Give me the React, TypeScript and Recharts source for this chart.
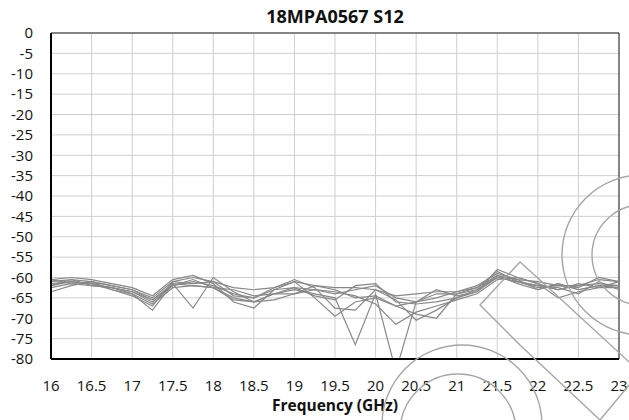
import React from "react"
import {
  CartesianGrid,
  Line,
  LineChart,
  ReferenceArea,
  XAxis,
  YAxis,
} from "recharts"

const FREQS = [
  16, 16.25, 16.5, 16.75, 17, 17.25, 17.5, 17.75, 18, 18.25, 18.5, 18.75, 19,
  19.25, 19.5, 19.75, 20, 20.25, 20.5, 20.75, 21, 21.25, 21.5, 21.75, 22, 22.25,
  22.5, 22.75, 23,
]

const S1 = [-61, -60.5, -61, -62, -63, -65, -61, -60, -61, -62.5, -63, -62.5, -61, -62, -62.5, -62.5, -63, -64.5, -64, -63.5, -63.5, -62, -59, -60.5, -61, -62, -62.5, -60, -61]
const S2 = [-62, -61, -61.5, -62.5, -63.5, -66, -62, -61, -62, -64, -65, -63, -62.5, -63, -64, -63, -62, -65, -66, -64, -64, -63, -60, -61, -62, -63, -62, -61.5, -62]
const S3 = [-63.5, -62, -61, -63, -64, -68, -61.5, -67.5, -60, -63.5, -66, -64, -63, -64, -65, -76.5, -64, -83, -66, -65, -63.5, -62.5, -59.5, -61.5, -63, -61.5, -63, -62, -62.5]
const S4 = [-60.5, -60, -60.5, -61.5, -62.5, -64.5, -60.5, -59.5, -61.5, -66, -67.5, -63, -61, -65, -69.5, -66, -65, -67, -69, -70, -64, -62.5, -58.5, -61, -62.5, -62, -62, -60.5, -61]
const S5 = [-62.5, -61.5, -62, -62.5, -64, -66.5, -62.5, -62, -62.5, -65, -66, -65.5, -64, -63, -63.5, -64.5, -66.5, -71.5, -68.5, -67, -65.5, -64, -60.5, -60, -61.5, -65, -63.5, -62.5, -62.5]
const S6 = [-61.5, -61, -61.5, -63, -64.5, -67, -61, -61.5, -61, -64.5, -65, -62.5, -60.5, -62.5, -67.5, -68, -63, -65.5, -70.5, -68, -65, -63.5, -60, -61, -62, -62.5, -64, -61, -63]
const S7 = [-60.5, -61.5, -61, -62, -63, -65.5, -62, -60.5, -62.5, -65.5, -66, -64, -62.5, -64.5, -65.5, -62, -61.5, -66, -66.5, -66, -65, -63, -59.5, -60.5, -63, -61.5, -63, -62, -62]
const S8 = [-62, -60.5, -62, -62.5, -63.5, -65.5, -61.5, -62, -62.5, -63, -64.5, -64, -64, -62, -63, -65, -64.5, -67, -66, -63, -64.5, -63.5, -58, -60, -61.5, -63, -61.5, -62.5, -61]

const SERIES = [S1, S2, S3, S4, S5, S6, S7, S8]
const SERIES_KEYS = ["s1", "s2", "s3", "s4", "s5", "s6", "s7", "s8"]

const X_TICKS = [16, 16.5, 17, 17.5, 18, 18.5, 19, 19.5, 20, 20.5, 21, 21.5, 22, 22.5, 23]
const Y_TICKS = [0, -5, -10, -15, -20, -25, -30, -35, -40, -45, -50, -55, -60, -65, -70, -75, -80]

const data = FREQS.map((f, i) => {
  const row: Record<string, number> = { f }
  SERIES_KEYS.forEach((k, j) => {
    row[k] = SERIES[j][i]
  })
  return row
})

const FONT = "'Open Sans', 'Noto Sans', sans-serif"
const tick = { fill: "#111", fontSize: 15, fontFamily: FONT }

// faint logo watermark laid over the lower right of the picture
function Watermark() {
  const s = { fill: "none", stroke: "#a6a6a6", strokeWidth: 1.4 }
  return (
    <svg
      width={629}
      height={420}
      style={{ position: "absolute", left: 0, top: 0, pointerEvents: "none" }}
    >
      <circle cx={642} cy={255} r={80} {...s} />
      <circle cx={642} cy={255} r={50} {...s} />
      <circle cx={462} cy={425} r={80} {...s} />
      <circle cx={458} cy={432} r={58} {...s} />
      <polygon points="480,305 520,262 540,280 640,372 600,420 520,345" {...s} />
    </svg>
  )
}

export default function App() {
  return (
    <div
      style={{
        position: "absolute",
        left: 0,
        top: 0,
        width: 629,
        height: 420,
        background: "#fff",
        fontFamily: FONT,
        overflow: "hidden",
      }}
    >
      <div
        style={{
          position: "absolute",
          left: 51,
          width: 568,
          top: 3,
          textAlign: "center",
          fontWeight: 700,
          fontSize: 18,
          lineHeight: "26px",
          color: "#111",
        }}
      >
        18MPA0567 S12
      </div>
      <LineChart
        width={629}
        height={420}
        data={data}
        margin={{ top: 33, right: 10, bottom: 21, left: 0 }}
      >
        <CartesianGrid stroke="#cfcfcf" strokeWidth={1} />
        <XAxis
          dataKey="f"
          type="number"
          domain={[16, 23]}
          ticks={X_TICKS}
          interval={0}
          height={40}
          tick={tick}
          tickLine={false}
          tickMargin={15}
          axisLine={{ stroke: "#000", strokeWidth: 2 }}
          label={{
            value: "Frequency (GHz)",
            position: "bottom",
            offset: 1,
            style: { fontWeight: 700, fontSize: 15.5, fill: "#111", fontFamily: FONT },
          }}
        />
        <YAxis
          type="number"
          domain={[-80, 0]}
          ticks={Y_TICKS}
          interval={0}
          allowDataOverflow
          width={51}
          tick={tick}
          tickLine={false}
          tickMargin={12}
          axisLine={{ stroke: "#000", strokeWidth: 2 }}
        />
        <ReferenceArea
          x1={16}
          x2={23}
          y1={-80}
          y2={0}
          fill="none"
          stroke="#222"
          strokeWidth={1}
        />
        {SERIES_KEYS.map((k) => (
          <Line
            key={k}
            dataKey={k}
            type="linear"
            stroke="#888"
            strokeWidth={1.2}
            dot={false}
            isAnimationActive={false}
          />
        ))}
      </LineChart>
      <Watermark />
    </div>
  )
}
